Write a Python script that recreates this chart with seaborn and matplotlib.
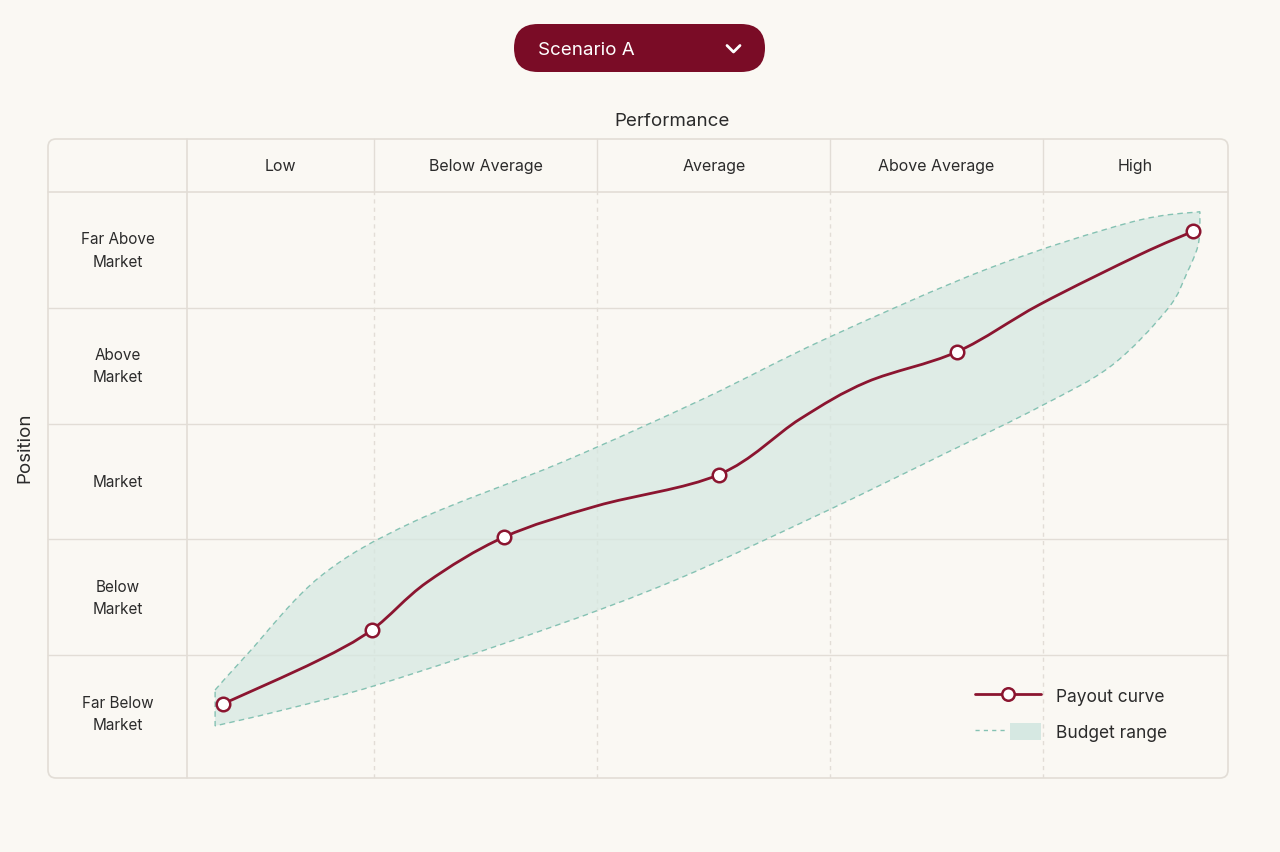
import numpy as np
import matplotlib
matplotlib.use("Agg")
import matplotlib.pyplot as plt
import matplotlib.transforms as mtransforms
from matplotlib.path import Path
from matplotlib.patches import PathPatch, FancyBboxPatch, Patch
from matplotlib.lines import Line2D
from matplotlib.legend_handler import HandlerTuple
import seaborn as sns

# performance columns (score 0-100) and position rows (0-5)
performance_labels = ["Low", "Below Average", "Average", "Above Average", "High"]
performance_edges = [0, 18.0, 39.4, 61.8, 82.2, 100]
position_labels = ["Far Below\nMarket", "Below\nMarket", "Market", "Above\nMarket", "Far Above\nMarket"]

# payout checkpoints (markers)
payout_x = [3.46, 17.77, 30.45, 51.10, 73.97, 96.64]
payout_y = [0.58, 1.22, 2.02, 2.56, 3.62, 4.66]

# payout curve, traced
curve_x = [3.46, 12.49, 17.77, 23.05, 30.45, 39.39, 51.10, 58.89, 65.32, 73.97, 81.94, 91.55, 96.64]
curve_y = [0.58, 0.95, 1.22, 1.63, 2.02, 2.29, 2.56, 3.04, 3.36, 3.62, 4.03, 4.46, 4.66]

# budget range boundaries
upper_x = [2.7, 5.8, 12.8, 21.7, 36.1, 49.5, 61.3, 77.0, 90.7, 97.3]
upper_y = [0.70, 1.01, 1.68, 2.15, 2.67, 3.21, 3.73, 4.34, 4.74, 4.83]
lower_x = [2.7, 8.9, 18.5, 34.6, 47.2, 61.3, 73.0, 82.0, 88.8, 94.2, 96.1, 97.1, 97.3]
lower_y = [0.39, 0.52, 0.75, 1.23, 1.66, 2.24, 2.75, 3.15, 3.50, 3.99, 4.31, 4.53, 4.70]

CRIMSON = "#8b1530"
PILL = "#7a0c26"
TEAL_EDGE = "#85c2b3"
TEAL_FILL = "#d6e8e2"
GRID = "#e2ddd6"
TEXT = "#2b2b2b"
BG = "#faf8f3"


def smooth(xs, ys):
    # catmull-rom through the points, drawn as bezier segments
    pts = np.column_stack([xs, ys]).astype(float)
    verts = [pts[0]]
    codes = [Path.MOVETO]
    n = len(pts)
    for i in range(n - 1):
        p0 = pts[i - 1] if i > 0 else pts[i]
        p1, p2 = pts[i], pts[i + 1]
        p3 = pts[i + 2] if i + 2 < n else p2
        verts += [p1 + (p2 - p0) / 6, p2 - (p3 - p1) / 6, p2]
        codes += [Path.CURVE4] * 3
    return verts, codes


sns.set_theme(style="white")
plt.rcParams["font.family"] = ["Inter", "DejaVu Sans"]

W, H = 1280, 853
fig = plt.figure(figsize=(W / 100, H / 100), dpi=100, facecolor=BG)

# decoration layer in pixel coordinates
deco = fig.add_axes([0, 0, 1, 1], zorder=0)
deco.set_xlim(0, W)
deco.set_ylim(H, 0)
deco.axis("off")

deco.add_patch(FancyBboxPatch((48, 140), 1180, 639, boxstyle="round,pad=0,rounding_size=8",
                              facecolor=BG, edgecolor=GRID, lw=1.2))
deco.add_patch(FancyBboxPatch((514, 25), 251, 48, boxstyle="round,pad=0,rounding_size=24",
                              facecolor=PILL, edgecolor="none"))
deco.text(538, 50, "Scenario A", color="white", fontsize=13.5, ha="left", va="center")
deco.plot([727, 733.5, 740], [46.5, 53, 46.5], color="white", lw=2, solid_capstyle="round")
deco.text(672, 121, "Performance", color=TEXT, fontsize=13.5, ha="center", va="center")
deco.text(25, 448, "Position", color=TEXT, fontsize=13.5, ha="center", va="center", rotation=90)

# main chart body
left, top, right, bottom = 187, 193, 1228, 779
ax = fig.add_axes([left / W, 1 - bottom / H, (right - left) / W, (bottom - top) / H], zorder=1)
ax.set_facecolor("none")
ax.set_xlim(0, 100)
ax.set_ylim(-0.06, 5)
ax.set_xticks([])
ax.set_yticks([])
for s in ax.spines.values():
    s.set_visible(False)

head_h = 53 / (bottom - top)
side_w = 139 / (right - left)
xblend = mtransforms.blended_transform_factory(ax.transData, ax.transAxes)
yblend = mtransforms.blended_transform_factory(ax.transAxes, ax.transData)

# grid: dashed verticals in body, solid in header
for e in performance_edges[1:-1]:
    ax.axvline(e, color=GRID, lw=1, ls=(0, (3, 3)), zorder=0)
    ax.plot([e, e], [1, 1 + head_h], transform=xblend, color=GRID, lw=1, clip_on=False)
ax.plot([0, 0], [0, 1 + head_h], transform=xblend, color=GRID, lw=1.2, clip_on=False)
for r in range(1, 5):
    ax.plot([-side_w, 1], [r, r], transform=yblend, color=GRID, lw=1, clip_on=False, zorder=0)
ax.plot([-side_w, 1], [5, 5], transform=yblend, color=GRID, lw=1.2, clip_on=False)

for i, lab in enumerate(performance_labels):
    cx = (performance_edges[i] + performance_edges[i + 1]) / 2
    ax.text(cx, 1 + head_h / 2, lab, transform=xblend, ha="center", va="center",
            fontsize=11.5, color=TEXT)
for i, lab in enumerate(position_labels):
    ax.text(-side_w / 2, i + 0.5, lab, transform=yblend, ha="center", va="center",
            fontsize=11, color=TEXT, linespacing=1.6)

# budget range band
uv, uc = smooth(upper_x, upper_y)
lv, lc = smooth(lower_x[::-1], lower_y[::-1])
band_verts = uv + lv + [uv[0]]
band_codes = uc + [Path.LINETO] + lc[1:] + [Path.CLOSEPOLY]
ax.add_patch(PathPatch(Path(band_verts, band_codes), facecolor=TEAL_FILL, alpha=0.75,
                       edgecolor="none", zorder=1))
ax.add_patch(PathPatch(Path(band_verts, band_codes), facecolor="none", edgecolor=TEAL_EDGE,
                       lw=1, ls=(0, (4, 3)), zorder=2))

# payout curve
pv, pc = smooth(curve_x, curve_y)
ax.add_patch(PathPatch(Path(pv, pc), facecolor="none", edgecolor=CRIMSON, lw=2,
                       capstyle="round", joinstyle="round", zorder=3))
sns.scatterplot(x=payout_x, y=payout_y, ax=ax, s=95, color="white", edgecolor=CRIMSON,
                linewidth=1.8, zorder=4)

h_curve = Line2D([], [], color=CRIMSON, lw=2, marker="o", markersize=9,
                 markerfacecolor="white", markeredgecolor=CRIMSON, markeredgewidth=1.8)
h_band = (Line2D([], [], color=TEAL_EDGE, lw=1, ls=(0, (3, 3))),
          Patch(facecolor=TEAL_FILL, edgecolor="none"))
ax.legend([h_curve, h_band], ["Payout curve", "Budget range"],
          handler_map={tuple: HandlerTuple(ndivide=2, pad=0.3)},
          loc="upper left", bbox_to_anchor=(0.75, 0.168), frameon=False,
          fontsize=12.5, handlelength=3.8, handleheight=1.2, handletextpad=0.9,
          labelspacing=1.0, borderaxespad=0, labelcolor=TEXT)

fig.savefig("out.png", dpi=100, facecolor=BG)
